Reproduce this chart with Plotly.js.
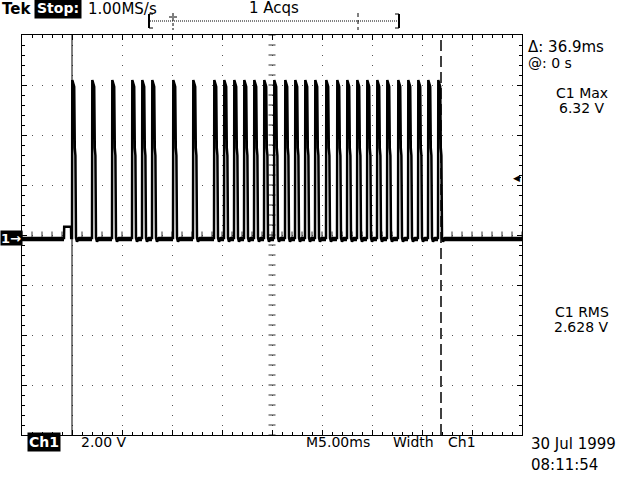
<!DOCTYPE html>
<html><head><meta charset="utf-8">
<script src="https://cdn.plot.ly/plotly-3.0.1.min.js"></script>
<style>body{margin:0;background:#fff}#chart{width:640px;height:480px}</style>
</head><body><div id="chart"></div>
<script>
// Rising-edge times of each pulse, ms relative to trigger
const pulseStarts = [0, 2.0, 4.0, 6.0, 7.0, 8.0, 10.1, 12.1, 14.2, 15.2, 16.2, 17.2, 18.2, 19.2, 20.2, 21.3, 22.3, 23.3, 24.3, 25.4, 26.5, 27.5, 28.5, 29.5, 30.5, 31.5, 32.6, 33.6, 34.6, 35.6, 36.6];
// Shape of one pulse: time offsets (ms) and volts
const pulseShapeT = [0, 0.03, 0.22, 0.28, 0.34, 0.40, 0.5, 0.7];
const pulseShapeV = [0, 6.32, 6.05, 3.6, 3.3, 0, -0.15, 0];
// Trace before the first pulse (small step near the trigger)
const preT = [-5, -0.8, -0.78, -0.1, -0.08];
const preV = [0, 0, 0.45, 0.45, 0];
const traceEnd = [45, 0];
// Low-level noise band (V) seen as a thick baseline
const lowBand = -0.05;
// Cursors (ms) and trigger level (V)
const cursorTimes = [0, 36.9];
const triggerLevel = 2.42;
// Screen ranges: 10 div x 5 ms, 8 div x 2 V
const timeRange = [-5, 45];
const voltRange = [-7.88, 8.12];

const xs = preT.slice(), ys = preV.slice();
pulseStarts.forEach(t0 => {
  pulseShapeT.forEach((dt, i) => { xs.push(t0 + dt); ys.push(pulseShapeV[i]); });
});
xs.push(traceEnd[0]); ys.push(traceEnd[1]);

// thick baseline segments between pulses
const bx = [], by = [];
const lowStarts = [timeRange[0]].concat(pulseStarts.map(t => t + 0.42));
const lowEnds = [-0.8].concat(pulseStarts.slice(1), [traceEnd[0]]);
lowStarts.forEach((s, i) => { bx.push(s, lowEnds[i], null); by.push(lowBand, lowBand, null); });

// graticule centre-line tick positions
const cx = (timeRange[0] + timeRange[1]) / 2, cy = (voltRange[0] + voltRange[1]) / 2;
const hTickX = [], hTickY = [], vTickX = [], vTickY = [];
for (let t = timeRange[0]; t <= timeRange[1] + 1e-9; t += 1) { hTickX.push(t); hTickY.push(cy); }
for (let v = voltRange[0]; v <= voltRange[1] + 1e-9; v += 0.4) { vTickX.push(cx); vTickY.push(v); }

const L = 22, T = 35, W = 500, H = 400;
const px = x => (x - L) / W;
const py = y => (T + H - y) / H;
const F = 'DejaVu Sans';

function txt(text, x, y, size, opts) {
  return Object.assign({
    text: text, xref: 'paper', yref: 'paper', x: px(x), y: py(y),
    xanchor: 'left', yanchor: 'middle', showarrow: false,
    font: {family: F, size: size, color: '#000'}, borderpad: 1
  }, opts || {});
}

const annotations = [
  txt('Tek', 0, 9, 15, {font: {family: F, size: 15, color: '#000', weight: 'bold'}}),
  txt('Stop:', 34, 8, 14, {bgcolor: '#000', borderpad: 2, font: {family: F, size: 14, color: '#fff', weight: 'bold'}}),
  txt('1.00MS/s', 86, 9, 15),
  txt('1 Acqs', 247, 8, 15),
  txt('Δ: 36.9ms', 526, 47, 15),
  txt('@: 0 s', 526, 63, 14),
  txt('C1 Max', 554, 93, 14),
  txt('6.32 V', 557, 108, 14),
  txt('C1 RMS', 553, 312, 14),
  txt('2.628 V', 552, 327, 14),
  txt('Ch1', 27, 442, 14, {bgcolor: '#000', font: {family: F, size: 14, color: '#fff', weight: 'bold'}}),
  txt('2.00 V', 79, 442, 14),
  txt('M5.00ms', 304, 442, 14),
  txt('Width', 391, 442, 14),
  txt('Ch1', 446, 442, 14),
  txt('30 Jul 1999', 529, 444, 15),
  txt('08:11:54', 529, 465, 15),
  {text: '1→', xref: 'paper', yref: 'y', x: px(0), y: 0, xanchor: 'left', yanchor: 'middle',
   showarrow: false, bgcolor: '#000', borderpad: 0, width: 21, height: 14, align: 'left',
   font: {family: F, size: 13, color: '#fff', weight: 'bold'}},
  {text: '◀', xref: 'paper', yref: 'y', x: px(512), y: triggerLevel, xanchor: 'left', yanchor: 'middle',
   showarrow: false, font: {family: F, size: 9, color: '#000'}, borderpad: 0}
];

const shapes = [
  {type: 'line', xref: 'x', yref: 'paper', x0: cursorTimes[0], x1: cursorTimes[0], y0: 0, y1: 1,
   line: {color: '#000', width: 1}},
  {type: 'line', xref: 'x', yref: 'paper', x0: cursorTimes[1], x1: cursorTimes[1], y0: 0, y1: 1,
   line: {color: '#000', width: 1.5, dash: '11px,5px'}},
  // record bar
  {type: 'line', xref: 'paper', yref: 'paper', x0: px(150), x1: px(399), y0: py(21), y1: py(21),
   line: {color: '#000', width: 1, dash: '1px,1px'}},
  {type: 'line', xref: 'paper', yref: 'paper', x0: px(149), x1: px(149), y0: py(14), y1: py(28), line: {color: '#000', width: 2}},
  {type: 'line', xref: 'paper', yref: 'paper', x0: px(149), x1: px(153), y0: py(14), y1: py(14), line: {color: '#000', width: 1}},
  {type: 'line', xref: 'paper', yref: 'paper', x0: px(149), x1: px(153), y0: py(28), y1: py(28), line: {color: '#000', width: 1}},
  {type: 'line', xref: 'paper', yref: 'paper', x0: px(399), x1: px(399), y0: py(14), y1: py(28), line: {color: '#000', width: 2}},
  {type: 'line', xref: 'paper', yref: 'paper', x0: px(395), x1: px(399), y0: py(14), y1: py(14), line: {color: '#000', width: 1}},
  {type: 'line', xref: 'paper', yref: 'paper', x0: px(395), x1: px(399), y0: py(28), y1: py(28), line: {color: '#000', width: 1}},
  {type: 'line', xref: 'paper', yref: 'paper', x0: px(173), x1: px(173), y0: py(13), y1: py(30), line: {color: '#000', width: 1, dash: '3px,2px'}},
  {type: 'line', xref: 'paper', yref: 'paper', x0: px(169), x1: px(177), y0: py(17), y1: py(17), line: {color: '#000', width: 1}},
  {type: 'line', xref: 'paper', yref: 'paper', x0: px(358), x1: px(358), y0: py(13), y1: py(30), line: {color: '#000', width: 1, dash: '4px,3px'}},
  // trigger arrow stem
  {type: 'line', xref: 'paper', yref: 'y', x0: px(517), x1: px(521), y0: triggerLevel, y1: triggerLevel, line: {color: '#000', width: 1}}
];

const axisCommon = {
  showgrid: true, gridcolor: '#555', gridwidth: 1, griddash: '1px,9px',
  showline: true, linecolor: '#000', linewidth: 1, mirror: 'ticks',
  ticks: 'inside', ticklen: 5, tickcolor: '#000', tickwidth: 1,
  showticklabels: false, zeroline: false, fixedrange: true
};

const data = [
  {x: hTickX, y: hTickY, type: 'scatter', mode: 'markers',
   marker: {symbol: 'line-ns-open', size: 5, color: '#333', line: {color: '#333', width: 1}}, hoverinfo: 'skip'},
  {x: vTickX, y: vTickY, type: 'scatter', mode: 'markers',
   marker: {symbol: 'line-ew-open', size: 5, color: '#333', line: {color: '#333', width: 1}}, hoverinfo: 'skip'},
  {x: bx, y: by, type: 'scatter', mode: 'lines', line: {color: '#000', width: 4}, hoverinfo: 'skip', connectgaps: false},
  {x: xs, y: ys, type: 'scatter', mode: 'lines', line: {color: '#000', width: 2.5}, hoverinfo: 'skip'}
];

const layout = {
  width: 640, height: 480,
  margin: {l: L, r: 640 - L - W, t: T, b: 480 - T - H, pad: 0},
  paper_bgcolor: '#fff', plot_bgcolor: '#fff',
  showlegend: false,
  xaxis: Object.assign({range: timeRange, tick0: 0, dtick: 5,
    minor: {dtick: 1, ticks: 'inside', ticklen: 3, tickcolor: '#000', showgrid: false}}, axisCommon),
  yaxis: Object.assign({range: voltRange, tick0: 0.12, dtick: 2,
    minor: {dtick: 0.4, tick0: 0.12, ticks: 'inside', ticklen: 3, tickcolor: '#000', showgrid: false}}, axisCommon),
  annotations: annotations,
  shapes: shapes
};

Plotly.newPlot('chart', data, layout, {staticPlot: true, displayModeBar: false});
</script></body></html>
